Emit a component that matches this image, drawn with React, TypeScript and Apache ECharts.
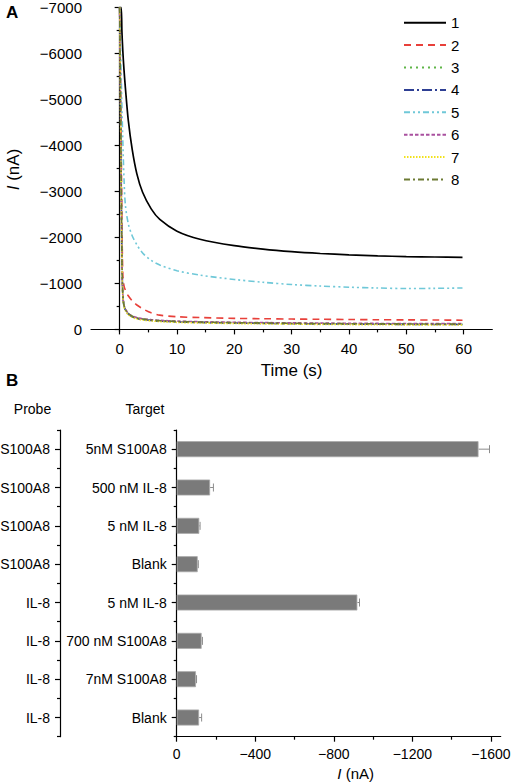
import React, { useEffect, useRef } from "react";
import * as echarts from "echarts";

const FONT = '"Liberation Sans", Arial, Helvetica, sans-serif';

// ---- Panel A data ----
const times = [0, 0.25, 0.4, 0.55, 0.75, 1, 1.5, 2.2, 3, 4, 5.5, 7, 10, 14, 20, 25, 30, 35, 40, 45, 50, 55, 59.8];
const curve1 = [-7000, -7000, -6450, -6050, -5650, -5250, -4550, -3900, -3380, -2980, -2620, -2390, -2135, -1960, -1820, -1745, -1690, -1650, -1620, -1598, -1583, -1573, -1567];
const curve2 = [-7000, -4300, -2300, -1200, -950, -850, -730, -620, -530, -450, -360, -310, -275, -258, -240, -232, -225, -220, -215, -210, -207, -204, -200];
const curve3 = [-7000, -3500, -1500, -750, -520, -430, -340, -280, -245, -220, -200, -185, -168, -155, -142, -135, -128, -124, -120, -117, -114, -112, -110];
const curve4 = [-7000, -3450, -1480, -740, -510, -425, -335, -275, -240, -215, -195, -180, -163, -150, -138, -131, -124, -119, -116, -112, -109, -107, -105];
const curve5 = [-7000, -5600, -4800, -4100, -3300, -2700, -2300, -2030, -1840, -1660, -1500, -1400, -1275, -1180, -1085, -1025, -975, -942, -917, -900, -888, -892, -900];
const curve6 = [-7000, -3550, -1530, -770, -535, -445, -352, -292, -256, -232, -212, -197, -180, -167, -155, -148, -142, -137, -133, -130, -128, -126, -125];
const curve7 = [-7000, -3400, -1450, -720, -500, -410, -322, -262, -228, -204, -185, -170, -153, -140, -128, -121, -114, -109, -105, -102, -99, -97, -95];
const curve8 = [-7000, -3520, -1510, -760, -525, -435, -345, -285, -250, -225, -205, -190, -173, -160, -147, -140, -133, -128, -124, -121, -119, -117, -115];
const curveNames = ["1", "2", "3", "4", "5", "6", "7", "8"];
const curveColors = ["#000000", "#e8403a", "#5fb548", "#2e3f94", "#6fc8d8", "#a9509f", "#f2e21c", "#6c7a33"];
const curveDashes: any[] = ["solid", [7, 5], [2, 4], [10, 3, 2, 3], [6, 3, 2, 3, 2, 3], [3.5, 2], [1.5, 1.5], [6, 3, 2, 3]];
const timeTicks = [0, 10, 20, 30, 40, 50, 60];
const timeMinorTicks = [5, 15, 25, 35, 45, 55];
const currentTicks = [-7000, -6000, -5000, -4000, -3000, -2000, -1000, 0];
const currentMinorTicks = [-6500, -5500, -4500, -3500, -2500, -1500, -500];

// ---- Panel B data ----
const probes = ["S100A8", "S100A8", "S100A8", "S100A8", "IL-8", "IL-8", "IL-8", "IL-8"];
const targets = ["5nM S100A8", "500 nM IL-8", "5 nM IL-8", "Blank", "5 nM IL-8", "700 nM S100A8", "7nM S100A8", "Blank"];
const barValues = [-1537, -170, -115, -107, -920, -127, -98, -114];
const barErrors = [56, 17, 4, 3, 11, 4, 3, 13];
const barTicks = [0, -400, -800, -1200, -1600];
const barMinorTicks = [-200, -600, -1000, -1400];

const minusFmt = (v: number) => (v === 0 ? "0" : "\u2212" + Math.abs(v));

export default function App() {
  const ref = useRef<HTMLDivElement>(null);

  useEffect(() => {
    if (!ref.current) return;
    const chart = echarts.init(ref.current, undefined, { renderer: "svg" });
    const curves = [curve1, curve2, curve3, curve4, curve5, curve6, curve7, curve8];
    const axisLine = { show: true, lineStyle: { color: "#000", width: 1.2 } };
    const tickStyle = { color: "#000", width: 1.2 };
    const labelStyle = { color: "#000", fontSize: 14, fontFamily: FONT };
    const labelStyleA = { color: "#000", fontSize: 15, fontFamily: FONT };
    const nameStyle = (size: number) => ({
      color: "#000",
      fontSize: size,
      fontFamily: FONT,
      rich: { i: { fontStyle: "italic", fontSize: size, fontFamily: FONT, color: "#000" } },
    });

    const option: any = {
      animation: false,
      backgroundColor: "#fff",
      textStyle: { fontFamily: FONT },
      grid: [
        { left: 91, top: 7.3, width: 401.3, height: 324.4, containLabel: false, outerBoundsMode: "none" },
        { left: 176.7, top: 430, width: 324, height: 306.7, containLabel: false, outerBoundsMode: "none" },
      ],
      xAxis: [
        {
          gridIndex: 0, type: "value", min: -5, max: 65,
          axisLine, splitLine: { show: false },
          axisTick: { show: true, length: 5, lineStyle: tickStyle, customValues: timeTicks },
          axisLabel: { ...labelStyleA, margin: 9.5, customValues: timeTicks },
          name: "Time (s)", nameLocation: "middle", nameGap: 30, nameTextStyle: nameStyle(17),
        },
        {
          gridIndex: 0, type: "value", min: -5, max: 65, position: "bottom",
          axisLine: { show: false }, splitLine: { show: false }, axisLabel: { show: false },
          axisTick: { show: true, length: 3, lineStyle: tickStyle, customValues: timeMinorTicks },
        },
        {
          gridIndex: 1, type: "value", min: -1650, max: 0, inverse: true,
          axisLine, splitLine: { show: false },
          axisTick: { show: true, length: 5, lineStyle: tickStyle, customValues: barTicks },
          axisLabel: { ...labelStyle, margin: 10, customValues: barTicks, formatter: minusFmt },
          name: "{i|I} (nA)", nameLocation: "middle", nameGap: 29,
          nameTextStyle: { ...nameStyle(15), padding: [0, 0, 0, 34] },
        },
        {
          gridIndex: 1, type: "value", min: -1650, max: 0, inverse: true, position: "bottom",
          axisLine: { show: false }, splitLine: { show: false }, axisLabel: { show: false },
          axisTick: { show: true, length: 3, lineStyle: tickStyle, customValues: barMinorTicks },
        },
      ],
      yAxis: [
        {
          gridIndex: 0, type: "value", min: -7000, max: 50, inverse: true,
          axisLine, splitLine: { show: false },
          axisTick: { show: true, length: 5, lineStyle: tickStyle, customValues: currentTicks },
          axisLabel: { ...labelStyleA, margin: 9, customValues: currentTicks, formatter: minusFmt },
          name: "{i|I} (nA)", nameLocation: "middle", nameGap: 69.5, nameRotate: 90, nameTextStyle: nameStyle(17),
        },
        {
          gridIndex: 0, type: "value", min: -7000, max: 50, inverse: true, position: "left",
          axisLine: { show: false }, splitLine: { show: false }, axisLabel: { show: false },
          axisTick: { show: true, length: 3, lineStyle: tickStyle, customValues: currentMinorTicks },
        },
        {
          gridIndex: 1, type: "category", data: targets, inverse: true, position: "left",
          axisLine, splitLine: { show: false },
          axisTick: { show: true, alignWithLabel: true, interval: 0, length: 5, lineStyle: tickStyle },
          axisLabel: { ...labelStyle, margin: 10, interval: 0 },
        },
        {
          gridIndex: 1, type: "category", data: targets, inverse: true, position: "left",
          axisLine: { show: false }, splitLine: { show: false }, axisLabel: { show: false },
          axisTick: { show: true, alignWithLabel: false, interval: 0, length: 3, lineStyle: tickStyle },
        },
        {
          gridIndex: 1, type: "category", data: probes, inverse: true, position: "left", offset: 116.7,
          axisLine, splitLine: { show: false },
          axisTick: { show: true, alignWithLabel: true, interval: 0, length: 5, lineStyle: tickStyle },
          axisLabel: { ...labelStyle, margin: 10, interval: 0 },
        },
        {
          gridIndex: 1, type: "category", data: probes, inverse: true, position: "left", offset: 116.7,
          axisLine: { show: false }, splitLine: { show: false }, axisLabel: { show: false },
          axisTick: { show: true, alignWithLabel: false, interval: 0, length: 3, lineStyle: tickStyle },
        },
      ],
      legend: {
        orient: "vertical", left: 403, top: 15.2, padding: 0,
        itemWidth: 42, itemHeight: 15, itemGap: 7.4,
        selectedMode: false,
        data: curveNames,
        itemStyle: { opacity: 0 },
        textStyle: { color: "#000", fontSize: 15, fontFamily: FONT },
      },
      series: [
        ...curves.map((vals, k) => ({
          name: curveNames[k],
          type: "line",
          xAxisIndex: 0, yAxisIndex: 0,
          data: times.map((t, i) => [t, vals[i]]),
          symbol: "none",
          smooth: 0.3,
          clip: true,
          lineStyle: { color: curveColors[k], width: k === 0 ? 1.7 : 1.6, type: curveDashes[k] },
          itemStyle: { color: curveColors[k] },
          z: 2 + k * 0.01,
        })),
        {
          name: "Response",
          type: "bar",
          xAxisIndex: 2, yAxisIndex: 2,
          data: barValues,
          barWidth: 16,
          itemStyle: { color: "#7a7a7a", borderColor: "#a9a9a9", borderWidth: 0.8 },
          z: 3,
        },
        {
          name: "Error",
          type: "custom",
          xAxisIndex: 2, yAxisIndex: 2,
          data: barValues.map((v, i) => [v, barErrors[i], i]),
          encode: { x: 0, y: 2 },
          z: 2,
          renderItem: (_params: any, api: any) => {
            const v = api.value(0);
            const e = api.value(1);
            const idx = api.value(2);
            const a = api.coord([v, idx]);
            const b = api.coord([v - e, idx]);
            const h = 4;
            const st = { stroke: "#8c8c8c", lineWidth: 1 };
            return {
              type: "group",
              children: [
                { type: "line", shape: { x1: a[0], y1: a[1], x2: b[0], y2: b[1] }, style: st },
                { type: "line", shape: { x1: b[0], y1: b[1] - h, x2: b[0], y2: b[1] + h }, style: st },
              ],
            };
          },
        },
      ],
      graphic: [
        { type: "text", left: 6, top: 4, style: { text: "A", fontSize: 17, fontWeight: "bold", fontFamily: FONT, fill: "#000" } },
        { type: "text", left: 6, top: 372, style: { text: "B", fontSize: 17, fontWeight: "bold", fontFamily: FONT, fill: "#000" } },
        { type: "text", x: 32.5, y: 409.3, style: { text: "Probe", fontSize: 14, fontFamily: FONT, fill: "#000", align: "center", verticalAlign: "middle" } },
        { type: "text", x: 145, y: 409.3, style: { text: "Target", fontSize: 14, fontFamily: FONT, fill: "#000", align: "center", verticalAlign: "middle" } },
      ],
    };
    chart.setOption(option);
    return () => chart.dispose();
  }, []);

  return <div ref={ref} style={{ position: "fixed", left: 0, top: 0, width: 511, height: 783 }} />;
}
